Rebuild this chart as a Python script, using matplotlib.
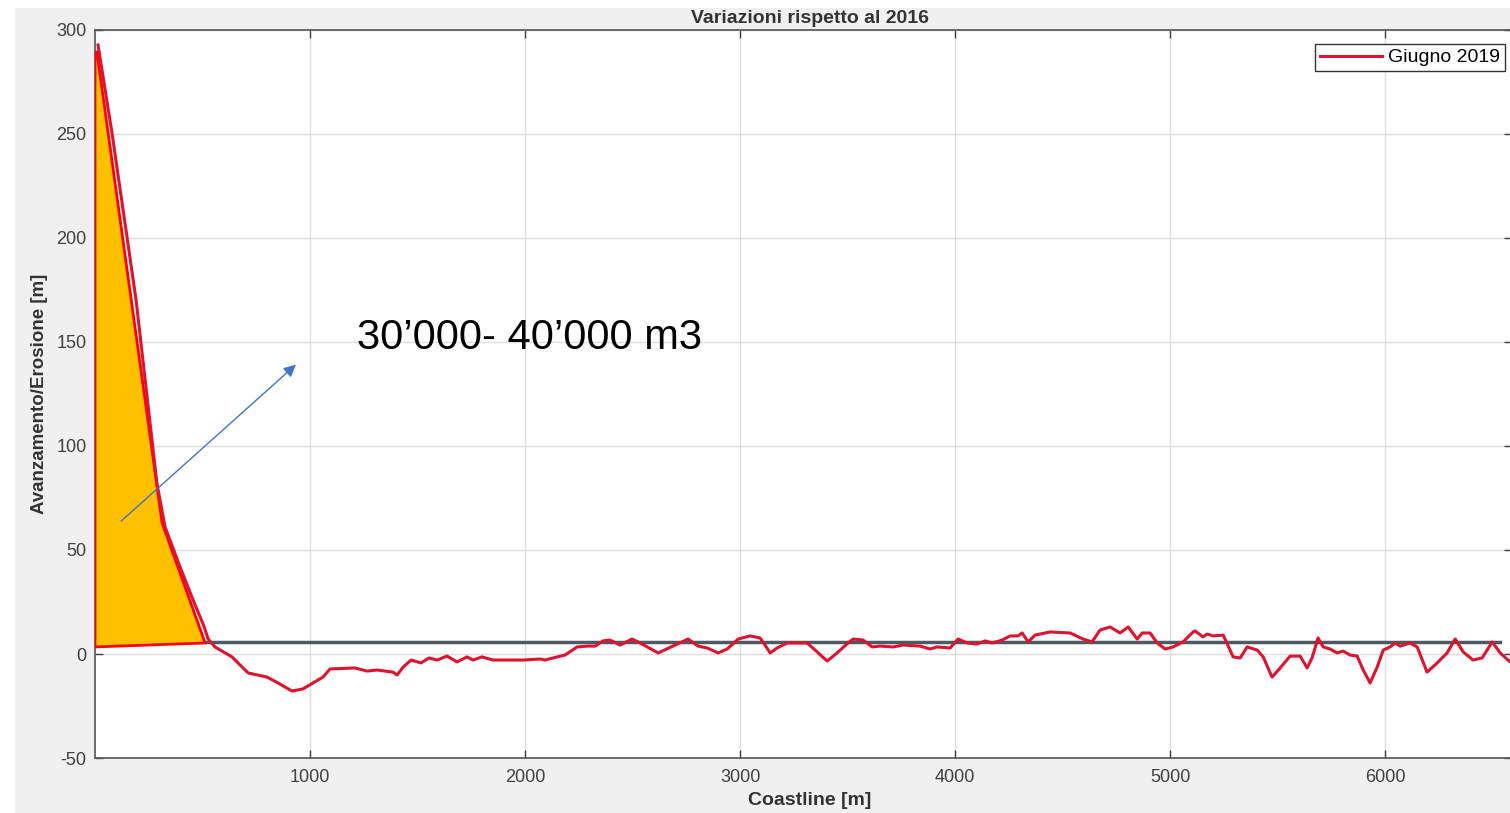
import matplotlib
matplotlib.use('Agg')
import matplotlib.pyplot as plt
from matplotlib.patches import Rectangle, Polygon

plt.rcParams['font.family'] = ['Liberation Sans', 'DejaVu Sans']
plt.rcParams['axes.unicode_minus'] = False

# shoreline change vs 2016 survey, June 2019 (m along coast, m of advance/erosion)
coast_x = [14, 79, 191, 288, 326, 395, 456, 508, 526, 558, 637, 712, 800, 851, 916,
           967, 1014, 1060, 1093, 1209, 1265, 1312, 1386, 1405, 1433, 1470, 1516,
           1553, 1591, 1637, 1684, 1730, 1758, 1800, 1851, 1991, 2070, 2093, 2149,
           2186, 2242, 2288, 2326, 2363, 2395, 2442, 2498, 2535, 2619, 2688, 2758,
           2805, 2847, 2898, 2940, 2991, 3047, 3093, 3116, 3140, 3172, 3219, 3312,
           3349, 3405, 3451, 3502, 3526, 3572, 3614, 3651, 3712, 3758, 3837, 3884,
           3916, 3977, 4014, 4056, 4102, 4140, 4172, 4219, 4256, 4293, 4312, 4340,
           4372, 4442, 4535, 4595, 4637, 4674, 4721, 4767, 4805, 4847, 4870, 4907,
           4940, 4977, 5014, 5060, 5107, 5116, 5153, 5172, 5200, 5247, 5293, 5326,
           5358, 5405, 5433, 5474, 5512, 5558, 5605, 5637, 5660, 5688, 5712, 5744,
           5777, 5805, 5837, 5870, 5898, 5930, 5963, 5991, 6023, 6047, 6070, 6116,
           6149, 6195, 6242, 6288, 6326, 6363, 6409, 6451, 6498, 6535, 6581]
giugno_2019 = [292.8, 250.5, 170.2, 82.0, 61.0, 42.0, 26.0, 13.0, 7.2, 3.4, -1.4, -9.1,
               -11.1, -13.9, -17.8, -16.8, -13.9, -11.1, -7.2, -6.7, -8.2, -7.7, -8.7,
               -10.1, -6.3, -2.9, -4.3, -1.9, -2.9, -1.0, -3.8, -1.4, -2.9, -1.4, -2.9,
               -2.9, -2.4, -2.9, -1.4, -0.5, 3.4, 3.8, 3.8, 6.3, 6.7, 4.3, 7.2, 5.3, 0.5,
               3.8, 7.2, 3.8, 2.9, 0.5, 2.4, 7.2, 8.7, 7.7, 4.3, 0.5, 2.9, 5.3, 5.3, 1.9,
               -3.4, 0.5, 5.3, 7.2, 6.7, 3.4, 3.8, 3.4, 4.3, 3.8, 2.4, 3.4, 2.9, 7.2, 5.3,
               4.8, 6.3, 5.3, 6.7, 8.7, 8.7, 10.1, 5.8, 9.1, 10.6, 10.1, 7.2, 5.8, 11.5,
               13.0, 10.1, 13.0, 7.2, 10.1, 10.1, 5.3, 2.4, 3.4, 5.8, 10.6, 11.1, 8.2,
               9.6, 8.7, 9.1, -1.4, -1.9, 3.4, 1.9, -1.4, -11.1, -6.7, -1.0, -1.0, -6.7,
               -1.9, 7.7, 3.4, 2.4, 0.5, 1.4, -0.5, -1.0, -7.7, -13.9, -6.3, 1.9, 3.4,
               5.3, 3.8, 5.3, 3.4, -8.7, -4.3, 0.5, 7.2, 1.0, -2.9, -1.9, 5.8, 0.5, -3.8]

# reference level and the accretion wedge at the start of the coast
ref_x = [521, 6535]
ref_y = [6, 6]
wedge_x = [0, 0, 512, 312, 9]
wedge_y = [289.4, 3.4, 5.3, 63.0, 289.4]
arrow_from = (112, 63)
arrow_to = (944, 140)
volume_label = '30\u2019000- 40\u2019000 m3'

W, H = 1510, 813
fig = plt.figure(figsize=(W / 100, H / 100), dpi=100, facecolor='#f0f0f0')
# white margin along the left and top edges
fig.patches.append(Rectangle((0, 0), 15 / W, 1, transform=fig.transFigure,
                             facecolor='white', edgecolor='none', zorder=-10))
fig.patches.append(Rectangle((0, 1 - 8 / H), 1, 8 / H, transform=fig.transFigure,
                             facecolor='white', edgecolor='none', zorder=-10))

ax_w = 1417
ax = fig.add_axes([95 / W, 55 / H, ax_w / W, 728 / H])
ax.set_facecolor('white')
ax.set_xlim(0, 6590)
ax.set_ylim(-50, 300)
ax.set_xticks([1000, 2000, 3000, 4000, 5000, 6000])
ax.set_yticks([-50, 0, 50, 100, 150, 200, 250, 300])
ax.grid(True, color='#dedede', linewidth=1)
ax.set_axisbelow(True)
ax.tick_params(direction='in', length=6, width=1, colors='#404040', labelsize=13,
               top=True, right=True)
ax.tick_params(axis='y', pad=6)
ax.tick_params(axis='x', pad=8)
for s in ax.spines.values():
    s.set_color('#555555')
    s.set_linewidth(1.2)

ax.add_patch(Polygon(list(zip(wedge_x, wedge_y)), closed=True, facecolor='#ffc000',
                     edgecolor='#ff0000', linewidth=2, zorder=3))
ax.plot(ref_x, ref_y, color='#4d5a63', linewidth=2.5, zorder=4)
ax.plot(coast_x, giugno_2019, color='#dc1430', linewidth=2.2, zorder=5,
        label='Giugno 2019')
ax.annotate('', xy=arrow_to, xytext=arrow_from,
            arrowprops=dict(arrowstyle='-|>', color='#4472c4', lw=1,
                            mutation_scale=18), zorder=6)
ax.text(1220, 152, volume_label, fontsize=30, color='black', va='center', ha='left')

mid = (810 - 95) / ax_w
ax.set_title('Variazioni rispetto al 2016', fontsize=14, fontweight='bold',
             color='#333333', pad=5, x=mid)
ax.set_xlabel('Coastline [m]', fontsize=14, fontweight='bold', color='#333333')
ax.xaxis.set_label_coords(mid, -34 / 728)
ax.set_ylabel('Avanzamento/Erosione [m]', fontsize=13.5, fontweight='bold',
              color='#333333')
ax.yaxis.set_label_coords(-47 / ax_w, 0.5)

leg = ax.legend(loc='upper right',
                bbox_to_anchor=((1505 - 95) / ax_w, 1 - 14 / 728),
                fontsize=14, fancybox=False, framealpha=1, edgecolor='#333333',
                handlelength=3.2, borderpad=0.25, handletextpad=0.3,
                borderaxespad=0)
leg.get_frame().set_linewidth(1)

fig.savefig('out.png', dpi=100, facecolor=fig.get_facecolor())
